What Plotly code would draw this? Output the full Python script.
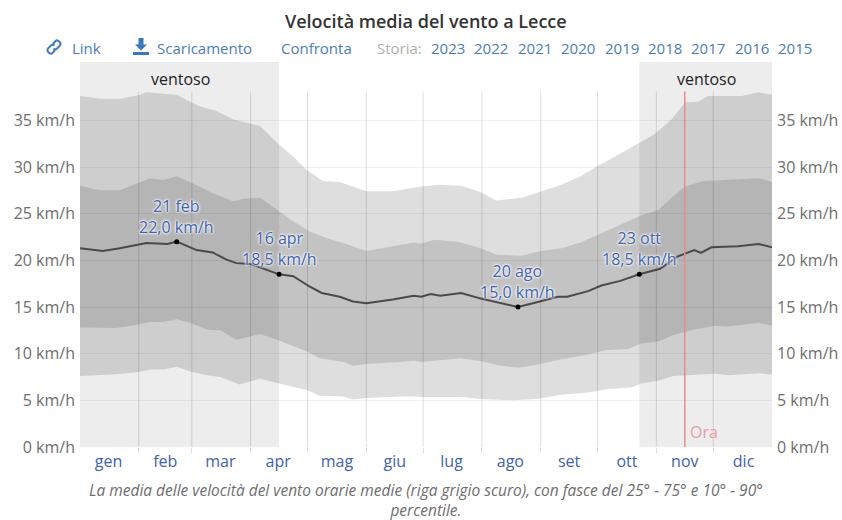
import plotly.graph_objects as go

TITLE = "Velocità media del vento a Lecce"
CAPTION = "La media delle velocità del vento orarie medie (riga grigio scuro), con fasce del 25° - 75° e 10° - 90°<br>percentile."

month_labels = ["gen", "feb", "mar", "apr", "mag", "giu", "lug", "ago", "set", "ott", "nov", "dic"]
month_mid = [15, 45, 74, 104.5, 135.5, 166, 196, 227, 258, 288.5, 319, 350]
month_start = [31, 59, 90, 120, 151, 181, 212, 243, 273, 304, 334]
y_ticks = [0, 5, 10, 15, 20, 25, 30, 35]
years = ["2023", "2022", "2021", "2020", "2019", "2018", "2017", "2016", "2015"]

p90_days = [0, 10.5, 21, 32, 35, 51, 63, 72, 81, 95, 104, 112.5, 119.5, 128, 137, 151, 165, 176, 180, 189, 201, 211.5, 219.5, 233, 243, 254, 264, 273, 282, 289, 296, 303, 312, 319, 326, 331, 349, 358, 365]
p90_vals = [37.6, 37.3, 37.3, 37.75, 38.0, 37.75, 36.5, 36.0, 35.1, 34.4, 32.6, 31.1, 29.7, 28.5, 28.4, 27.4, 27.4, 27.75, 27.9, 28.1, 28.0, 27.3, 26.4, 26.7, 27.4, 28.1, 29.0, 30.1, 31.1, 31.9, 32.75, 33.5, 35.1, 36.9, 37.0, 37.6, 37.6, 38.0, 37.75]

p75_days = [0, 10.5, 21, 28, 37, 44, 51, 60, 70, 81, 86, 95, 104, 112.5, 121, 130, 141, 151, 165, 176, 180, 187, 199, 211.5, 219.5, 233, 243, 254, 264, 273, 285, 296, 305, 312, 319, 329, 342, 358, 365]
p75_vals = [28.0, 27.5, 27.5, 28.1, 28.8, 28.6, 29.0, 28.2, 27.2, 26.3, 26.6, 26.7, 25.4, 24.2, 23.1, 22.4, 21.7, 21.0, 21.5, 21.9, 21.8, 22.2, 22.0, 21.3, 20.6, 20.5, 21.0, 21.3, 21.9, 22.75, 23.8, 24.8, 25.4, 26.7, 27.9, 28.5, 28.6, 28.8, 28.4]

mean_days = [0, 12, 21, 35, 46, 51, 61.5, 70, 77, 82.5, 90, 105, 112.5, 121, 127.5, 137, 144, 151, 165, 176, 180, 185, 190, 201, 211.5, 220, 231, 241, 252, 257, 268, 275, 285, 295, 306, 315, 324, 327.5, 333, 347, 358, 365]
mean_vals = [21.3, 21.0, 21.3, 21.85, 21.75, 22.0, 21.1, 20.85, 20.1, 19.7, 19.6, 18.5, 18.3, 17.2, 16.5, 16.1, 15.6, 15.4, 15.8, 16.2, 16.1, 16.4, 16.2, 16.5, 15.9, 15.5, 15.0, 15.5, 16.1, 16.1, 16.7, 17.3, 17.8, 18.5, 19.1, 20.4, 21.1, 20.8, 21.4, 21.5, 21.75, 21.4]

p25_days = [0, 19, 30, 37, 44, 51, 58, 67, 74, 82.5, 95, 104, 112.5, 119.5, 126.5, 139, 144, 151, 169, 176, 180, 201, 211.5, 222, 231, 241, 254, 268, 278, 289, 296, 305, 313, 324, 335, 342, 358, 365]
p25_vals = [12.8, 12.75, 13.1, 13.4, 13.4, 13.7, 13.3, 12.6, 12.5, 11.5, 12.1, 11.5, 10.8, 10.25, 9.5, 9.1, 8.7, 8.9, 9.1, 9.25, 9.1, 9.5, 9.2, 8.7, 8.5, 8.8, 9.4, 9.9, 10.4, 10.5, 11.1, 11.3, 12.0, 12.6, 13.0, 12.9, 13.3, 13.0]

p10_days = [0, 19, 30, 37, 44, 51, 58, 67, 74, 84, 95, 107, 119.5, 126.5, 139, 144, 151, 169, 176, 180, 201, 211.5, 229, 241, 254, 268, 278, 291, 296, 305, 313, 324, 335, 342, 358, 365]
p10_vals = [7.6, 7.8, 8.0, 8.3, 8.3, 8.6, 8.1, 7.7, 7.5, 6.7, 7.3, 6.7, 6.1, 5.5, 5.4, 5.1, 5.25, 5.4, 5.4, 5.35, 5.35, 5.15, 5.0, 5.15, 5.6, 5.85, 6.2, 6.4, 6.8, 7.1, 7.6, 7.7, 7.85, 7.7, 7.9, 7.75]

callout_days = [51, 105, 231, 295]
callout_vals = [22.0, 18.5, 15.0, 18.5]
callout_text = ["21 feb<br>22,0 km/h", "16 apr<br>18,5 km/h", "20 ago<br>15,0 km/h", "23 ott<br>18,5 km/h"]

windy_spans = [(0, 105), (295, 365)]
now_day = 319
grid_top = 38.1
y_max = 41.25

FONT = "Open Sans"
BLUE = "#3f62ad"
LINK = "#4a7db8"
GREY = "#6e6e6e"


def px_x(px):
    return (px - 80) / 692


def px_y(py):
    return (447.3 - py) / 385.3


fig = go.Figure()
fig.add_trace(go.Scatter(x=p90_days + p10_days[::-1], y=p90_vals + p10_vals[::-1], fill="toself",
                         fillcolor="rgba(0,0,0,0.13)", line=dict(width=0), mode="lines", hoverinfo="skip"))
fig.add_trace(go.Scatter(x=p75_days + p25_days[::-1], y=p75_vals + p25_vals[::-1], fill="toself",
                         fillcolor="rgba(0,0,0,0.12)", line=dict(width=0), mode="lines", hoverinfo="skip"))
fig.add_trace(go.Scatter(x=mean_days, y=mean_vals, mode="lines", line=dict(color="#4a4a4a", width=2)))
fig.add_trace(go.Scatter(x=callout_days, y=callout_vals, mode="markers", marker=dict(color="#000000", size=5)))
fig.add_trace(go.Scatter(x=[0], y=[0], yaxis="y2", mode="markers", marker=dict(opacity=0), hoverinfo="skip"))

shapes = []
for a, b in windy_spans:
    shapes.append(dict(type="rect", xref="x", yref="paper", x0=a, x1=b, y0=0, y1=1,
                       fillcolor="rgba(0,0,0,0.07)", line=dict(width=0), layer="below"))
for d in month_start:
    shapes.append(dict(type="line", xref="x", yref="y", x0=d, x1=d, y0=0, y1=grid_top,
                       line=dict(color="rgba(0,0,0,0.13)", width=1), layer="above"))
shapes.append(dict(type="line", xref="x", yref="y", x0=now_day, x1=now_day, y0=0, y1=grid_top,
                   line=dict(color="#ea8a8a", width=1.5), layer="above"))

# toolbar icons
link_path = ("M -1 3 L 1.5 6 C 3.5 8 8 4 6 1.5 L 3 -1.5 C 2 -2.5 0.5 -2.5 -0.5 -1.5 "
             "M 1 -3 L -1.5 -6 C -3.5 -8 -8 -4 -6 -1.5 L -3 1.5 C -2 2.5 -0.5 2.5 0.5 1.5")
shapes.append(dict(type="path", xref="paper", yref="paper", xsizemode="pixel", ysizemode="pixel",
                   xanchor=px_x(54), yanchor=px_y(47), path=link_path, line=dict(color=LINK, width=2)))
dl_arrow = "M -2.5 9 L 2.5 9 L 2.5 2.5 L 6 2.5 L 0 -3.5 L -6 2.5 L -2.5 2.5 Z"
shapes.append(dict(type="path", xref="paper", yref="paper", xsizemode="pixel", ysizemode="pixel",
                   xanchor=px_x(141), yanchor=px_y(47), path=dl_arrow, fillcolor="#3a78bd",
                   line=dict(color="#3a78bd", width=0)))
dl_tray = "M -8 -5 L 8 -5 L 8 -8 L -8 -8 Z"
shapes.append(dict(type="path", xref="paper", yref="paper", xsizemode="pixel", ysizemode="pixel",
                   xanchor=px_x(141), yanchor=px_y(47), path=dl_tray, fillcolor="#3a78bd",
                   line=dict(color="#3a78bd", width=0)))


def note(text, px, py, size=15, color=LINK, anchor="left", **font_kw):
    return dict(text=text, xref="paper", yref="paper", x=px_x(px), y=px_y(py), xanchor=anchor, yanchor="middle",
                showarrow=False, font=dict(family=FONT, size=size, color=color, **font_kw))


annotations = [
    note(TITLE, 426, 21, size=18, color="#333333", anchor="center", weight=600),
    note("Link", 70, 48),
    note("Scaricamento", 155, 48),
    note("Confronta", 279, 48),
    note("Storia:", 375, 48, color="#b0b0b0"),
    note("ventoso", 180, 79, size=16, color="#222222", anchor="center"),
    note("ventoso", 706, 79, size=16, color="#222222", anchor="center"),
    note("Ora", 688, 432, size=16, color="#ec9aa5"),
    note(CAPTION, 426, 500, size=15.5, color=GREY, anchor="center", style="italic"),
]
year_px = [428.5, 472, 515.5, 559, 602.5, 645.5, 689, 732.5, 775.5]
for yr, px in zip(years, year_px):
    annotations.append(note(yr, px, 48))
for d, v, t in zip(callout_days, callout_vals, callout_text):
    annotations.append(dict(text=t, x=d, y=v, xref="x", yref="y", showarrow=False, xanchor="center", yanchor="bottom",
                            yshift=2, font=dict(family=FONT, size=16, color=BLUE,
                                                shadow="0 0 3px white, 0 0 3px white, 0 0 2px white")))

ytext = [f"{v} km/h" for v in y_ticks]
fig.update_layout(
    width=842, height=520, showlegend=False, paper_bgcolor="white", plot_bgcolor="white",
    margin=dict(l=80, r=70, t=62, b=72.7, pad=0, autoexpand=False),
    font=dict(family=FONT, size=14, color=GREY),
    xaxis=dict(range=[0, 365], tickmode="array", tickvals=month_mid, ticktext=month_labels, ticks="",
               tickfont=dict(family=FONT, size=16, color=BLUE), showgrid=False, zeroline=False, showline=False,
               ticklabelstandoff=3,
               minor=dict(tickmode="array", tickvals=month_start, ticks="outside", ticklen=5,
                          tickcolor="rgba(0,0,0,0.13)", showgrid=False)),
    yaxis=dict(range=[0, y_max], tickmode="array", tickvals=y_ticks, ticktext=ytext, side="left",
               tickfont=dict(family=FONT, size=16, color=GREY), gridcolor="rgba(0,0,0,0.06)", gridwidth=1,
               zeroline=False, showline=False, ticks="", ticklabelstandoff=4),
    yaxis2=dict(range=[0, y_max], tickmode="array", tickvals=y_ticks, ticktext=ytext, side="right",
                overlaying="y", tickfont=dict(family=FONT, size=16, color=GREY), showgrid=False, zeroline=False,
                showline=False, ticks="", ticklabelstandoff=4),
    shapes=shapes, annotations=annotations,
)
fig.write_html("out.html", config={"displayModeBar": False},
               post_script="document.body.style.margin='0';document.documentElement.style.overflow='hidden';")
